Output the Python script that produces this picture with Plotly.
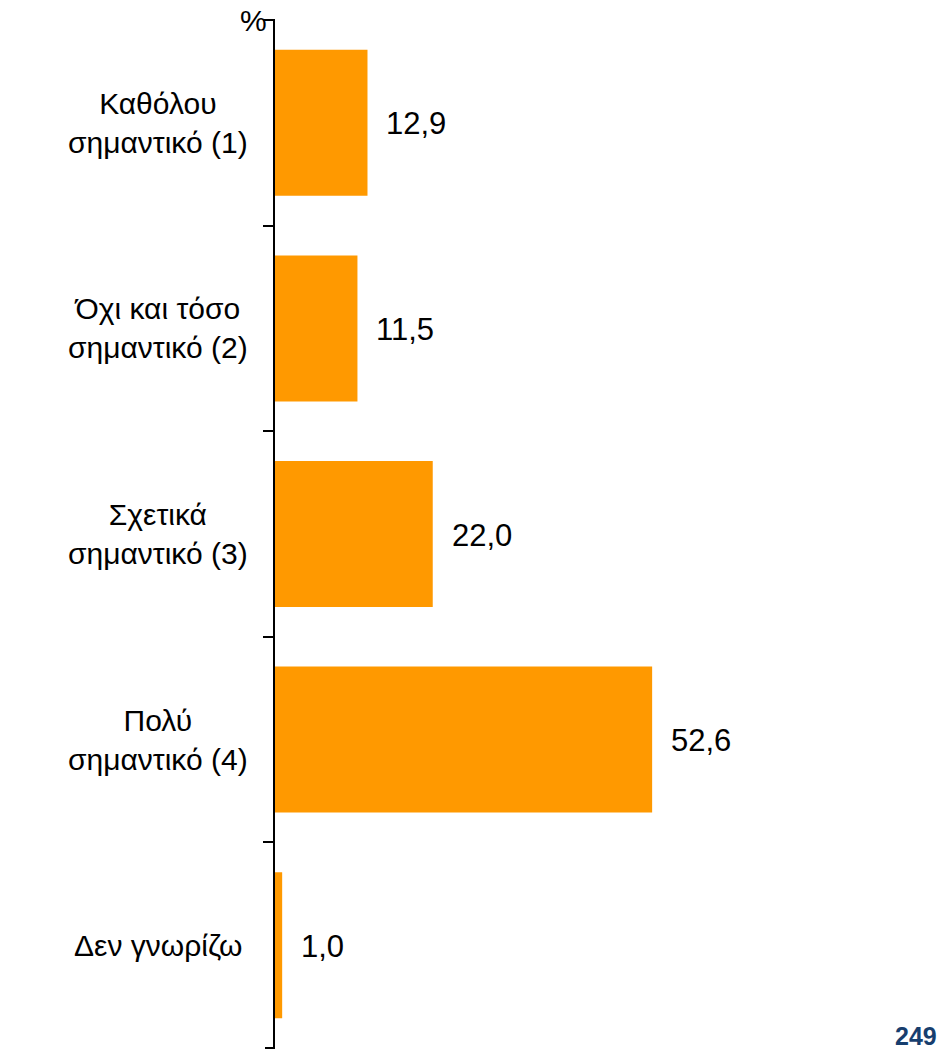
import plotly.graph_objects as go

# Survey responses: how important the issue is rated
categories = [
    "Καθόλου<br>σημαντικό (1)",
    "Όχι και τόσο<br>σημαντικό (2)",
    "Σχετικά<br>σημαντικό (3)",
    "Πολύ<br>σημαντικό (4)",
    "Δεν γνωρίζω",
]
values = [12.9, 11.5, 22.0, 52.6, 1.0]
value_labels = [f"{v:.1f}".replace(".", ",") for v in values]

ORANGE = "#FF9900"
FONT = "Liberation Sans, Arial, sans-serif"

W, H = 948, 1050
L, R, T, B = 275, 28, 20, 2
plot_w = W - L - R
x_max = plot_w / 7.17

fig = go.Figure(
    go.Bar(
        y=categories,
        x=values,
        orientation="h",
        marker=dict(color=ORANGE, line=dict(width=0)),
        hoverinfo="skip",
    )
)

# Category labels, centered in the left margin
for cat in categories:
    fig.add_annotation(
        x=-117 / plot_w, xref="paper", y=cat, yref="y",
        text=cat, showarrow=False, xanchor="center", yanchor="middle",
        align="center", font=dict(family=FONT, size=30, color="#000000"),
    )

# Value labels to the right of each bar
for cat, v, lab in zip(categories, values, value_labels):
    fig.add_annotation(
        x=v, xref="x", y=cat, yref="y", text=lab, showarrow=False,
        xanchor="left", yanchor="middle", xshift=17, yshift=-1,
        font=dict(family=FONT, size=31, color="#000000"),
    )

# Unit marker at top of the axis
fig.add_annotation(
    x=0, xref="paper", y=1, yref="paper", text="%", showarrow=False,
    xanchor="right", yanchor="middle", xshift=-6, yshift=0,
    font=dict(family=FONT, size=30, color="#000000"),
)

# Page number
fig.add_annotation(
    x=1, xref="paper", y=0, yref="paper", text="<b>249</b>", showarrow=False,
    xanchor="right", yanchor="bottom", xshift=R - 9, yshift=-B - 2,
    font=dict(family=FONT, size=25, color="#173E6E"),
)

# End ticks at the top and bottom of the axis
for yp in (0, 1):
    fig.add_shape(
        type="line", xref="paper", yref="paper",
        x0=-10 / plot_w, x1=0, y0=yp, y1=yp,
        line=dict(color="black", width=2),
    )

fig.update_layout(
    width=W, height=H,
    margin=dict(l=L, r=R, t=T, b=B),
    paper_bgcolor="white", plot_bgcolor="white",
    bargap=0.29,
    showlegend=False,
    xaxis=dict(range=[0, x_max], visible=False, fixedrange=True),
    yaxis=dict(
        type="category",
        autorange="reversed",
        showticklabels=False,
        showgrid=False, zeroline=False,
        showline=True, linecolor="black", linewidth=2,
        ticks="outside", tickson="boundaries", ticklen=10,
        tickwidth=2, tickcolor="black",
    ),
)

fig.write_html("out.html")
